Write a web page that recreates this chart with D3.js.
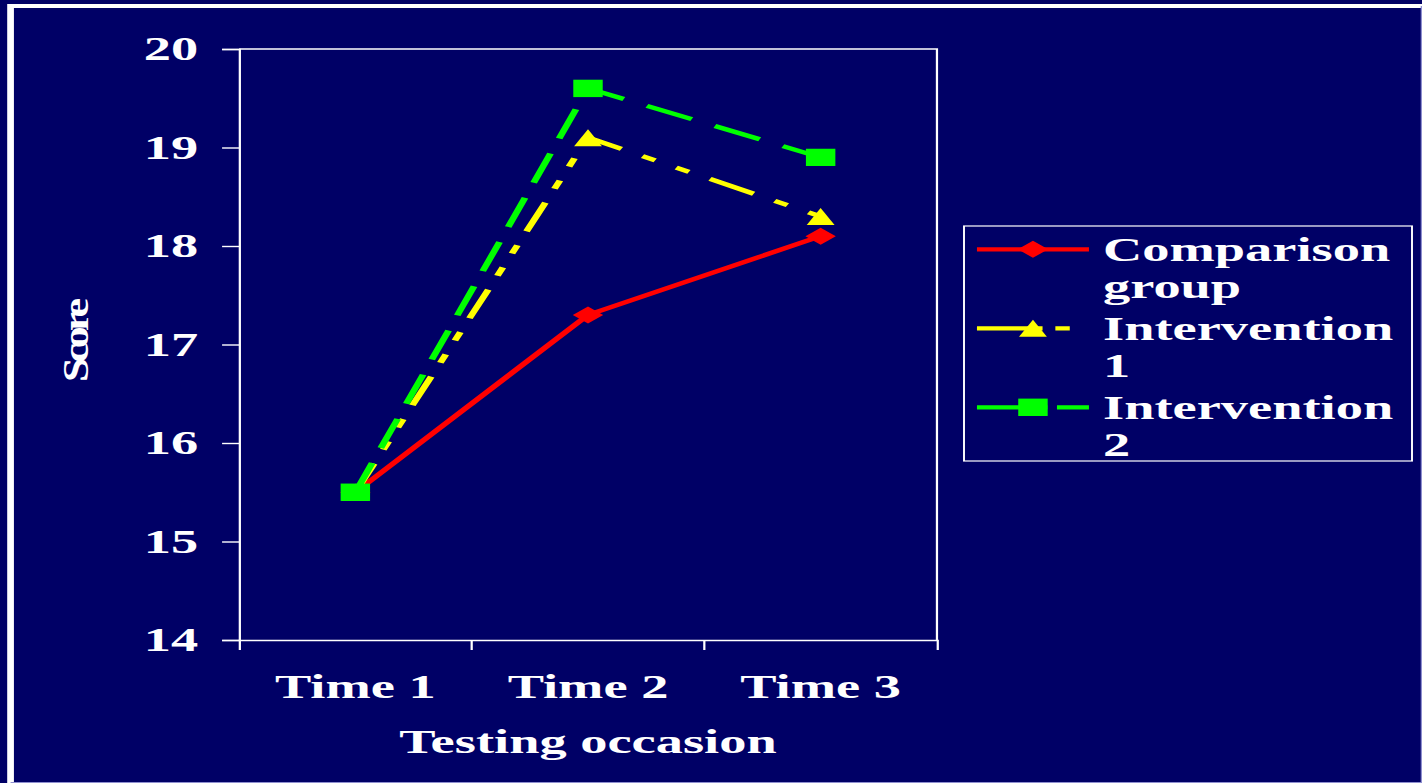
<!DOCTYPE html>
<html lang="en">
<head>
  <meta charset="UTF-8">
  <title>Score by testing occasion</title>
  <script src="https://cdn.jsdelivr.net/npm/d3@7"></script>
  <style>
    html, body { margin: 0; padding: 0; background: #000066; }
    svg { display: block; }
    text { font-family: "Liberation Serif", "Times New Roman", serif; font-weight: bold; fill: #fff; }
  </style>
</head>
<body>
  <div id="chart"></div>
  <script>
    // Data
    const categories = ["Time 1", "Time 2", "Time 3"];
    const comparison = [15.5, 17.3, 18.1];
    const intervention1 = [15.5, 19.1, 18.3];
    const intervention2 = [15.5, 19.6, 18.9];
    const yTicks = [14, 15, 16, 17, 18, 19, 20];
    const seriesLabels = [["Comparison", "group"], ["Intervention", "1"], ["Intervention", "2"]];

    // The slide was stretched sideways, so draw in a narrower space and let the viewBox stretch it
    const W = 1422, H = 783, SX = 1.6;
    const VW = W / SX;

    const svg = d3.select("#chart")
      .append("svg")
        .attr("width", W)
        .attr("height", H)
        .attr("viewBox", `0 0 ${VW} ${H}`)
        .attr("preserveAspectRatio", "none");

    svg.append("rect")
      .attr("width", VW).attr("height", H)
      .attr("fill", "#000066");

    // slide frame
    svg.append("path")
      .attr("d", `M6.6,${H} V6 H${VW}`)
      .attr("fill", "none").attr("stroke", "#fff").attr("stroke-width", 4.2);
    svg.append("path")
      .attr("d", `M${VW - 0.4},6 V${H - 0.5} H6.6`)
      .attr("fill", "none").attr("stroke", "#8f8fd0").attr("stroke-width", 0.8);

    const plot = { left: 149.4, right: 585.6, top: 49, bottom: 640 };

    const x = d3.scaleBand()
      .domain(categories)
      .range([plot.left, plot.right]);

    const y = d3.scaleLinear()
      .domain([14, 20])
      .range([plot.bottom, plot.top]);

    // plot area border (top and right)
    svg.append("path")
      .attr("d", `M${plot.left},${plot.top} H${plot.right} V${plot.bottom}`)
      .attr("fill", "none").attr("stroke", "#fff").attr("stroke-width", 1.4);

    // Y axis
    const yAxis = svg.append("g")
      .attr("transform", `translate(${plot.left},0)`)
      .call(d3.axisLeft(y).tickValues(yTicks).tickSize(10.6).tickPadding(15).tickFormat(d3.format("d")));
    yAxis.selectAll("path, line").attr("stroke", "#fff").attr("stroke-width", 1.4);
    yAxis.selectAll("text")
      .attr("fill", "#fff")
      .style("font-size", "34px");

    // X axis: labels at band centres, ticks at band edges
    const xAxis = svg.append("g")
      .attr("transform", `translate(0,${plot.bottom})`)
      .call(d3.axisBottom(x).tickSize(0).tickSizeOuter(10).tickPadding(34));
    xAxis.selectAll("path").attr("stroke", "#fff").attr("stroke-width", 1.4);
    xAxis.selectAll("text")
      .attr("fill", "#fff")
      .style("font-size", "34px");
    xAxis.selectAll(".edge")
      .data(categories.slice(1))
      .join("line")
        .attr("class", "edge")
        .attr("x1", d => x(d)).attr("x2", d => x(d))
        .attr("y1", 0).attr("y2", 10)
        .attr("stroke", "#fff").attr("stroke-width", 1.4);

    // axis titles
    svg.append("text")
      .attr("x", (plot.left + plot.right) / 2)
      .attr("y", 753)
      .attr("text-anchor", "middle")
      .style("font-size", "34px")
      .text("Testing occasion");

    svg.append("text")
      .attr("transform", "translate(55,340) rotate(-90) scale(2,1)")
      .attr("text-anchor", "middle")
      .attr("textLength", 42)
      .attr("lengthAdjust", "spacing")
      .style("font-size", "22px")
      .text("Score");

    // marker shapes
    const diamond = (cx, cy) => `M${cx},${cy - 8.5} L${cx + 9.5},${cy} L${cx},${cy + 8.5} L${cx - 9.5},${cy} Z`;
    const triangle = (cx, cy) => `M${cx},${cy - 8.5} L${cx + 8.7},${cy + 8.5} L${cx - 8.7},${cy + 8.5} Z`;
    const square = (cx, cy) => `M${cx - 9.2},${cy - 8.7} h18.4 v17.4 h-18.4 Z`;

    const series = [
      { values: comparison, color: "#ff0000", dash: null, legendDash: null, marker: diamond },
      { values: intervention1, color: "#ffff00", dash: "31,15,9,15,9,15", legendDash: "41,8,9,30", marker: triangle },
      { values: intervention2, color: "#00ff00", dash: "31,16", legendDash: "44,6,20,10", marker: square }
    ];

    const line = d3.line()
      .x((d, i) => x(categories[i]) + x.bandwidth() / 2)
      .y(d => y(d));

    series.forEach(s => {
      const g = svg.append("g");
      g.append("path")
        .datum(s.values)
        .attr("fill", "none")
        .attr("stroke", s.color)
        .attr("stroke-width", 4.3)
        .attr("stroke-dasharray", s.dash)
        .attr("d", line);
      g.selectAll("path.marker")
        .data(s.values)
        .join("path")
          .attr("class", "marker")
          .attr("fill", s.color)
          .attr("d", (d, i) => s.marker(x(categories[i]) + x.bandwidth() / 2, y(d)));
    });

    // legend
    const legend = svg.append("g");
    legend.append("rect")
      .attr("x", 602.5).attr("y", 226)
      .attr("width", 280).attr("height", 235)
      .attr("fill", "none").attr("stroke", "#fff").attr("stroke-width", 1.2);

    const rowY = d3.scalePoint()
      .domain(d3.range(series.length))
      .range([249.3, 407.3]);

    series.forEach((s, i) => {
      const ly = rowY(i);
      legend.append("line")
        .attr("x1", 610.6).attr("x2", 680.6)
        .attr("y1", ly).attr("y2", ly)
        .attr("stroke", s.color)
        .attr("stroke-width", 4.3)
        .attr("stroke-dasharray", s.legendDash);
      legend.append("path")
        .attr("fill", s.color)
        .attr("d", s.marker(645.6, ly));
      const t = legend.append("text")
        .attr("x", 689.4)
        .attr("y", ly + 11.5)
        .style("font-size", "34px");
      seriesLabels[i].forEach((part, k) => {
        t.append("tspan")
          .attr("x", 689.4)
          .attr("dy", k === 0 ? 0 : 37)
          .text(part);
      });
    });
  </script>
</body>
</html>
